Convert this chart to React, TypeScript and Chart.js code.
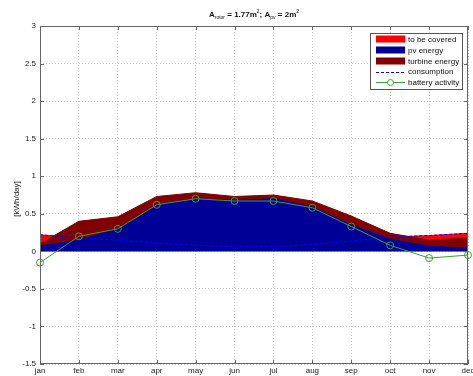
import React, { useEffect, useRef } from "react";
import { Chart, registerables } from "chart.js";

Chart.register(...registerables);

const months = ["jan", "feb", "mar", "apr", "may", "jun", "jul", "aug", "sep", "oct", "nov", "dec"];
const pvEnergy = [0.07, 0.15, 0.3, 0.62, 0.7, 0.68, 0.7, 0.59, 0.35, 0.16, 0.07, 0.04];
const turbineEnergy = [0.03, 0.25, 0.16, 0.11, 0.08, 0.05, 0.05, 0.08, 0.12, 0.08, 0.08, 0.14];
const consumption = [0.22, 0.18, 0.15, 0.11, 0.08, 0.06, 0.06, 0.09, 0.14, 0.19, 0.21, 0.24];
const battery = [-0.15, 0.2, 0.3, 0.62, 0.7, 0.67, 0.67, 0.58, 0.33, 0.08, -0.09, -0.05];
const seriesNames = ["to be covered", "pv energy", "turbine energy", "consumption", "battery activity"];
const yMin = -1.5;
const yMax = 3;
const yStep = 0.5;

const FONT = "'Liberation Sans', Arial, Helvetica, sans-serif";
const RED = "#ff0000";
const NAVY = "#000096";
const DARKRED = "#800000";
const BLUE = "#0000ff";
const GREEN = "#3c9e3c";

const overlay = {
  id: "overlay",
  beforeDraw(chart: any) {
    const ctx = chart.ctx;
    ctx.save();
    ctx.fillStyle = "#ffffff";
    ctx.fillRect(0, 0, chart.width, chart.height);
    ctx.restore();
  },
  afterDraw(chart: any) {
    const ctx = chart.ctx as CanvasRenderingContext2D;
    const { left, right, top, bottom } = chart.chartArea;
    const xs = chart.scales.x;
    const ys = chart.scales.y;
    ctx.save();
    // axes box
    ctx.strokeStyle = "#666";
    ctx.lineWidth = 1;
    ctx.setLineDash([]);
    ctx.strokeRect(Math.round(left) + 0.5, Math.round(top) + 0.5, Math.round(right - left) - 1, Math.round(bottom - top) - 1);
    // inward ticks
    ctx.beginPath();
    months.forEach((_, i) => {
      const px = Math.round(xs.getPixelForTick(i)) + 0.5;
      ctx.moveTo(px, bottom);
      ctx.lineTo(px, bottom - 4);
      ctx.moveTo(px, top);
      ctx.lineTo(px, top + 4);
    });
    ys.ticks.forEach((t: any) => {
      const py = Math.round(ys.getPixelForValue(t.value)) + 0.5;
      ctx.moveTo(left, py);
      ctx.lineTo(left + 4, py);
      ctx.moveTo(right, py);
      ctx.lineTo(right - 4, py);
    });
    ctx.stroke();

    // title
    ctx.fillStyle = "#111";
    ctx.textBaseline = "alphabetic";
    const segs: [string, string][] = [
      ["A", "n"], ["rotor", "sub"], [" = 1.77m", "n"], ["2", "sup"], ["; A", "n"], ["pv", "sub"], [" = 2m", "n"], ["2", "sup"],
    ];
    const fontFor = (k: string) => (k === "n" ? `bold 8px ${FONT}` : `5px ${FONT}`);
    let total = 0;
    segs.forEach(([s, k]) => {
      ctx.font = fontFor(k);
      total += ctx.measureText(s).width;
    });
    let x = (left + right) / 2 - total / 2;
    const base = 16.5;
    segs.forEach(([s, k]) => {
      ctx.font = fontFor(k);
      const dy = k === "sub" ? 2 : k === "sup" ? -4 : 0;
      ctx.textAlign = "left";
      ctx.fillText(s, x, base + dy);
      x += ctx.measureText(s).width;
    });

    // y label
    ctx.save();
    ctx.translate(17, (top + bottom) / 2 + 4);
    ctx.rotate(-Math.PI / 2);
    ctx.font = `8px ${FONT}`;
    ctx.textAlign = "center";
    ctx.textBaseline = "middle";
    ctx.fillStyle = "#111";
    ctx.fillText("[kWh/day]", 0, 0);
    ctx.restore();

    // legend
    const lx = 370.5, ly = 33.5, lw = 92, lh = 56;
    ctx.fillStyle = "#fff";
    ctx.fillRect(lx, ly, lw, lh);
    ctx.strokeStyle = "#555";
    ctx.lineWidth = 1;
    ctx.strokeRect(lx, ly, lw, lh);
    const rows = [39, 50, 61, 71.5, 82];
    const ds = chart.data.datasets;
    const sx0 = 376, sx1 = 405;
    ctx.font = `8px ${FONT}`;
    ctx.textAlign = "left";
    ctx.textBaseline = "middle";
    ds.forEach((d: any, i: number) => {
      const cy = rows[i];
      if (i < 3) {
        ctx.fillStyle = d.backgroundColor;
        ctx.fillRect(sx0, cy - 3.5, sx1 - sx0, 7);
      } else if (i === 3) {
        ctx.strokeStyle = d.borderColor;
        ctx.setLineDash([3, 2]);
        ctx.beginPath();
        ctx.moveTo(sx0, Math.round(cy) + 0.5);
        ctx.lineTo(sx1, Math.round(cy) + 0.5);
        ctx.stroke();
        ctx.setLineDash([]);
      } else {
        ctx.strokeStyle = d.borderColor;
        ctx.beginPath();
        ctx.moveTo(sx0, Math.round(cy) + 0.5);
        ctx.lineTo(sx1, Math.round(cy) + 0.5);
        ctx.stroke();
        ctx.beginPath();
        ctx.arc((sx0 + sx1) / 2, Math.round(cy) + 0.5, 3, 0, Math.PI * 2);
        ctx.fillStyle = "#fff";
        ctx.fill();
        ctx.stroke();
      }
      ctx.fillStyle = "#111";
      ctx.fillText(d.label, 408, cy + 0.5);
    });
    ctx.restore();
  },
};

export default function App() {
  const ref = useRef<HTMLCanvasElement | null>(null);
  useEffect(() => {
    document.body.style.margin = "0";
    const canvas = ref.current;
    if (!canvas) return;
    const totalEnergy = pvEnergy.map((v, i) => +(v + turbineEnergy[i]).toFixed(3));
    const chart = new Chart(canvas, {
      type: "line",
      data: {
        labels: months,
        datasets: [
          {
            label: seriesNames[0], data: consumption, order: 5, fill: "origin",
            backgroundColor: RED, borderColor: RED, borderWidth: 1, pointRadius: 0, tension: 0,
          },
          {
            label: seriesNames[1], data: pvEnergy, order: 3, fill: "origin",
            backgroundColor: NAVY, borderColor: NAVY, borderWidth: 1, pointRadius: 0, tension: 0,
          },
          {
            label: seriesNames[2], data: totalEnergy, order: 4, fill: "origin",
            backgroundColor: DARKRED, borderColor: DARKRED, borderWidth: 1, pointRadius: 0, tension: 0,
          },
          {
            label: seriesNames[3], data: consumption, order: 2, fill: false,
            backgroundColor: BLUE, borderColor: BLUE, borderWidth: 1, borderDash: [3, 2], pointRadius: 0, tension: 0,
          },
          {
            label: seriesNames[4], data: battery, order: 1, fill: false,
            backgroundColor: "rgba(0,0,0,0)", borderColor: GREEN, borderWidth: 1, pointRadius: 3.5,
            pointBorderColor: GREEN, pointBackgroundColor: "rgba(0,0,0,0)", pointBorderWidth: 1, tension: 0,
          },
        ] as any,
      },
      options: {
        animation: false,
        responsive: false,
        events: [],
        layout: { padding: { top: 26, right: 5, left: 0, bottom: 0 } },
        plugins: { legend: { display: false }, tooltip: { enabled: false }, title: { display: false } },
        scales: {
          x: {
            type: "category",
            offset: false,
            grid: { color: "#c8c8c8", drawTicks: false, offset: false, tickBorderDash: [1, 2] } as any,
            border: { display: false, dash: [1, 2] },
            ticks: { autoSkip: false, maxRotation: 0, minRotation: 0, padding: 2, color: "#222", font: { size: 8, family: FONT } },
            afterFit: (s: any) => { s.height = 12; s.paddingLeft = 0; s.paddingRight = 0; },
          },
          y: {
            type: "linear",
            min: yMin,
            max: yMax,
            grid: { color: "#c8c8c8", drawTicks: false },
            border: { display: false, dash: [1, 2] },
            ticks: {
              stepSize: yStep, padding: 4, color: "#222", font: { size: 8, family: FONT },
              callback: (v: any) => String(Math.round(Number(v) * 10) / 10),
            },
            afterFit: (s: any) => { s.width = 40; s.paddingTop = 0; s.paddingBottom = 0; },
          },
        },
      },
      plugins: [overlay],
    });
    return () => chart.destroy();
  }, []);
  return (
    <div style={{ width: 473, height: 376 }}>
      <canvas ref={ref} width={473} height={376} style={{ display: "block" }} />
    </div>
  );
}
